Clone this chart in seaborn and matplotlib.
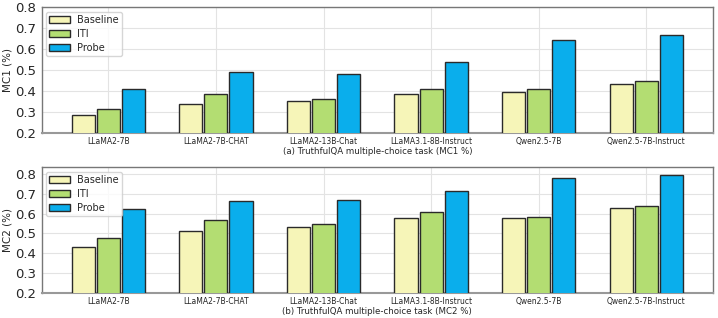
import numpy as np
import pandas as pd
import seaborn as sns
import matplotlib.pyplot as plt

sns.set_style('whitegrid')
plt.rcParams['font.family'] = ['DejaVu Sans']

# 模型名称
models = ['LLaMA2-7B', 'LLaMA2-7B-CHAT', 'LLaMA2-13B-Chat',
          'LLaMA3.1-8B-Instruct', 'Qwen2.5-7B', 'Qwen2.5-7B-Instruct']
methods = ['Baseline', 'ITI', 'Probe']

# MC1 结果
mc1_baseline = [0.285, 0.336, 0.353, 0.384, 0.396, 0.432]
mc1_iti = [0.312, 0.384, 0.361, 0.410, 0.408, 0.449]
mc1_probe = [0.408, 0.489, 0.479, 0.537, 0.642, 0.669]

# MC2 结果
mc2_baseline = [0.433, 0.512, 0.532, 0.578, 0.580, 0.630]
mc2_iti = [0.478, 0.570, 0.548, 0.610, 0.583, 0.640]
mc2_probe = [0.622, 0.663, 0.667, 0.715, 0.780, 0.797]

colors = ['#F6F5B8', '#B3DD72', '#0AAEEC']


def to_long(b, i, p):
    rows = []
    for vals, m in zip([b, i, p], methods):
        for name, v in zip(models, vals):
            rows.append({'model': name, 'method': m, 'score': v})
    return pd.DataFrame(rows)


fig = plt.figure(figsize=(7.18, 3.18), dpi=100)
ax1 = fig.add_axes([0.058, 0.583, 0.935, 0.394])
ax2 = fig.add_axes([0.058, 0.080, 0.935, 0.394])

panels = [
    (ax1, to_long(mc1_baseline, mc1_iti, mc1_probe), 'MC1 (%)',
     '(a) TruthfulQA multiple-choice task (MC1 %)', (0.2, 0.8)),
    (ax2, to_long(mc2_baseline, mc2_iti, mc2_probe), 'MC2 (%)',
     '(b) TruthfulQA multiple-choice task (MC2 %)', (0.2, 0.835)),
]

for ax, df, ylab, xlab, ylim in panels:
    sns.barplot(data=df, x='model', y='score', hue='method', hue_order=methods,
                palette=colors, saturation=1, width=0.7, gap=0.08,
                edgecolor='#2a2a2a', linewidth=1.0, ax=ax, zorder=3)
    ax.set_ylim(*ylim)
    ax.set_xlim(-0.62, 5.62)
    ax.set_yticks(np.arange(0.2, 0.81, 0.1))
    ax.tick_params(axis='y', labelsize=9.5, length=3, color='#555555', pad=1)
    ax.tick_params(axis='x', labelsize=5.5, length=2.5, color='#555555', pad=1)
    ax.set_ylabel(ylab, fontsize=7.5, labelpad=2)
    ax.set_xlabel(xlab, fontsize=6.2, labelpad=0.5)
    ax.grid(True, color='#e3e3e3', linewidth=0.8, zorder=0)
    ax.set_axisbelow(True)
    for sp in ax.spines.values():
        sp.set_color('#777777')
        sp.set_linewidth(1.0)
    ax.spines['bottom'].set_color('#999999')
    ax.spines['bottom'].set_linewidth(1.5)
    leg = ax.legend(loc='upper left', fontsize=7, frameon=True,
                    handlelength=2.1, handleheight=0.65, borderpad=0.35,
                    labelspacing=0.4, handletextpad=0.7, fancybox=True,
                    borderaxespad=0.45)
    leg.get_frame().set_edgecolor('#cccccc')
    leg.set_zorder(10)

fig.savefig('out.png', dpi=100)
